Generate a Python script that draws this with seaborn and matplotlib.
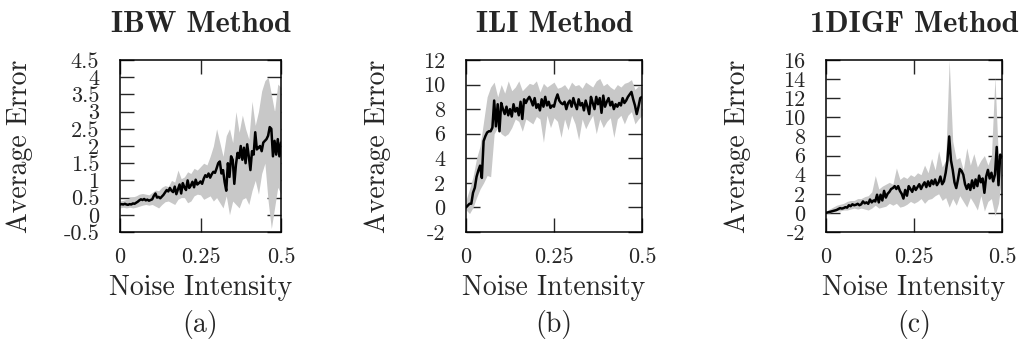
import numpy as np
import pandas as pd
import seaborn as sns
import matplotlib.pyplot as plt

# noise levels: mean curve sampled every 0.005, band every 0.01
noise_fine = np.round(np.arange(0, 0.5001, 0.005), 3)
noise_band = np.round(np.arange(0, 0.5001, 0.01), 2)

# IBW method
ibw_mean = [0.30, 0.31, 0.30, 0.32, 0.30, 0.29, 0.31, 0.30, 0.33, 0.32, 0.35,
            0.38, 0.42, 0.45, 0.43, 0.46, 0.42, 0.44, 0.41, 0.43, 0.45,
            0.55, 0.62, 0.50, 0.52, 0.48, 0.53, 0.58, 0.65, 0.72, 0.68,
            0.78, 0.70, 0.66, 0.82, 0.60, 0.74, 0.88, 0.62, 0.92, 0.80,
            0.72, 1.00, 0.78, 0.85, 0.96, 0.80, 1.02, 0.88, 0.92, 0.97,
            0.90, 1.05, 1.15, 1.10, 1.20, 1.08, 1.18, 1.25, 1.22, 1.35,
            1.50, 1.55, 1.20, 1.30, 0.95, 0.70, 1.50, 1.10, 1.70, 1.60,
            0.90, 1.45, 1.80, 1.65, 2.00, 1.60, 1.95, 1.50, 2.05, 1.70,
            1.30, 1.85, 1.75, 2.40, 1.90, 1.95, 2.00, 1.85, 2.10, 2.15,
            2.20, 2.30, 2.55, 2.50, 1.70, 2.15, 1.75, 2.20, 1.70, 2.10]
ibw_upper = [0.40, 0.42, 0.45, 0.50, 0.52, 0.55, 0.60, 0.62, 0.60, 0.58,
             0.65, 0.72, 0.70, 0.80, 0.85, 0.82, 1.00, 0.95, 1.30, 1.05,
             1.10, 1.25, 1.20, 1.35, 1.30, 1.40, 1.50, 1.45, 1.70, 2.00,
             2.50, 2.10, 1.70, 2.30, 2.50, 2.10, 3.00, 2.40, 2.90, 2.50,
             2.20, 3.30, 2.60, 3.00, 3.60, 3.90, 4.00, 3.50, 3.00, 3.80, 3.70]
ibw_lower = [0.20, 0.22, 0.20, 0.22, 0.20, 0.22, 0.25, 0.28, 0.30, 0.28,
             0.30, 0.25, 0.20, 0.30, 0.38, 0.40, 0.35, 0.30, 0.45, 0.50,
             0.50, 0.35, 0.40, 0.55, 0.60, 0.58, 0.45, 0.50, 0.55, 0.40,
             0.50, 0.35, 0.20, 0.55, 0.00, 0.40, 0.30, 0.20, 0.45, 0.50,
             0.30, 0.70, 1.00, 0.60, 1.20, 1.50, 0.40, -0.40, 0.20, 0.80, 0.60]

# ILI method
ili_mean = [0.0, 0.15, 0.3, 0.3, 1.2, 1.6, 2.5, 3.0, 3.4, 2.4, 5.4,
            5.8, 6.1, 6.2, 6.2, 6.5, 8.7, 6.6, 8.4, 6.2, 8.5,
            8.0, 7.6, 8.2, 7.5, 8.0, 7.4, 8.4, 7.8, 8.1, 7.5,
            8.6, 7.2, 8.8, 8.5, 8.8, 9.0, 8.7, 8.3, 8.9, 8.1,
            8.4, 7.9, 8.8, 8.2, 9.0, 8.3, 8.6, 8.1, 8.3, 8.2,
            8.8, 9.2, 8.7, 8.5, 8.4, 8.6, 8.0, 8.5, 8.7, 8.2,
            8.9, 8.4, 8.0, 8.8, 8.3, 8.5, 7.9, 8.7, 8.2, 7.6,
            9.0, 8.5, 8.0, 9.0, 8.4, 8.9, 7.7, 9.1, 8.2, 8.6,
            8.9, 8.3, 8.6, 8.0, 8.4, 8.2, 8.5, 8.3, 8.9, 8.5,
            8.7, 9.0, 9.2, 9.4, 8.8, 8.3, 7.6, 8.2, 8.9, 9.0]
ili_upper = [0.6, 1.5, 2.5, 4.0, 5.0, 7.0, 9.0, 9.8, 10.2, 9.0,
             10.0, 9.3, 10.3, 9.5, 9.8, 10.3, 9.5, 9.8, 10.1, 10.0,
             10.3, 9.4, 10.1, 9.8, 10.0, 10.2, 9.7, 9.8, 10.0, 9.6,
             10.2, 9.9, 10.0, 9.7, 10.2, 10.0, 9.8, 10.3, 10.5, 9.9,
             10.1, 9.8, 9.6, 10.0, 9.8, 10.1, 10.2, 10.4, 9.6, 9.9, 9.8]
ili_lower = [-0.2, -0.5, 0.0, 0.8, 1.5, 2.0, 2.6, 2.5, 6.0, 6.5,
             6.0, 5.8, 6.0, 6.5, 7.2, 7.0, 6.2, 7.2, 7.0, 6.8,
             7.4, 7.2, 5.3, 7.5, 6.5, 7.3, 7.0, 5.7, 7.2, 6.3,
             7.5, 6.8, 5.5, 7.2, 6.4, 7.0, 7.5, 6.0, 7.2, 6.5,
             7.0, 7.3, 5.7, 7.2, 7.5, 6.8, 7.5, 7.8, 6.8, 7.2, 7.5]

# 1DIGF method
digf_mean = [0.0, 0.05, 0.1, 0.15, 0.2, 0.25, 0.3, 0.4, 0.5, 0.45, 0.5,
             0.6, 0.55, 0.8, 0.7, 0.9, 0.8, 0.85, 0.95, 0.8, 0.9,
             1.2, 1.0, 1.1, 0.95, 1.4, 1.1, 1.3, 1.2, 1.9, 1.1,
             1.9, 1.3, 2.3, 1.6, 2.0, 2.2, 2.5, 2.6, 2.8, 2.5,
             2.8, 2.3, 2.0, 1.5, 2.4, 1.8, 2.8, 2.5, 2.2, 2.8,
             2.4, 2.7, 3.0, 2.5, 2.9, 3.2, 2.7, 3.3, 2.8, 3.4,
             3.0, 3.5, 2.9, 3.2, 3.8, 3.0, 3.3, 4.2, 5.5, 8.0,
             5.5, 4.5, 3.2, 2.6, 3.5, 4.6, 4.4, 4.0, 3.0, 2.5,
             3.0, 2.4, 3.4, 2.6, 3.5, 2.8, 3.9, 3.2, 3.6, 2.1,
             3.8, 4.5, 3.6, 4.2, 3.3, 4.0, 6.9, 2.9, 6.1, 5.8]
digf_upper = [0.2, 0.4, 0.6, 0.8, 0.9, 1.0, 1.2, 1.3, 1.3, 1.5,
              1.5, 1.7, 1.8, 2.2, 3.9, 2.5, 2.8, 3.0, 3.2, 3.0,
              4.7, 3.5, 3.8, 3.6, 4.0, 3.8, 4.2, 4.0, 5.0, 4.2,
              5.7, 4.5, 6.5, 4.8, 5.5, 16.0, 7.5, 5.6, 5.8, 4.5,
              6.8, 5.0, 6.2, 4.8, 5.5, 6.0, 5.0, 6.0, 14.2, 5.5, 6.2]
digf_lower = [-0.1, 0.0, 0.1, 0.2, 0.2, 0.3, 0.3, 0.4, 0.5, 0.4,
              0.5, 0.4, 0.3, 0.5, 0.8, 0.5, 0.6, 0.7, 1.0, 0.8,
              1.0, 0.6, 0.7, 0.9, 1.2, 1.0, 1.2, 1.5, 1.0, 1.4,
              1.5, 1.8, 2.0, 1.3, 1.6, 0.6, 1.5, 0.8, 1.8, 1.2,
              0.6, 1.6, 1.0, 0.3, 1.8, 0.2, 1.2, 1.5, -0.3, 1.0, 4.0]

titles = ['IBW Method', 'ILI Method', '1DIGF Method']
panel_tags = ['(a)', '(b)', '(c)']
x_ticks = [0, 0.25, 0.5]
x_tick_labels = ['0', '0.25', '0.5']
y_ranges = [(-0.5, 4.5, 0.5), (-2, 12, 2), (-2, 16, 2)]

sns.set_style('ticks')
plt.rcParams['font.family'] = ['cmr10', 'DejaVu Serif']
plt.rcParams['axes.unicode_minus'] = False
plt.rcParams['axes.formatter.use_mathtext'] = True

fig = plt.figure(figsize=(10.32, 3.56), dpi=100)
W, H = 1032, 356
boxes = [(120, 161), (466, 176), (826, 176)]
ylabel_x = [-0.54, -0.426, -0.426]
top, bottom = 60, 232

series = [(ibw_mean, ibw_lower, ibw_upper),
          (ili_mean, ili_lower, ili_upper),
          (digf_mean, digf_lower, digf_upper)]

for i, ((left, width), (mean, lo, hi)) in enumerate(zip(boxes, series)):
    ax = fig.add_axes([left / W, (H - bottom) / H, width / W, (bottom - top) / H])
    ax.fill_between(noise_band, lo, hi, color='#c8c8c8', linewidth=0)
    sns.lineplot(x=noise_fine, y=mean, ax=ax, color='black', linewidth=1.8)

    ymin, ymax, step = y_ranges[i]
    yt = np.round(np.arange(ymin, ymax + step / 2, step), 2)
    ax.set_xlim(0, 0.5)
    ax.set_ylim(ymin, ymax)
    ax.set_xticks(x_ticks)
    ax.set_xticklabels(x_tick_labels)
    ax.set_yticks(yt)
    ax.set_yticklabels(['%g' % v for v in yt])
    ax.tick_params(direction='in', length=10, width=1.0, top=True, right=True,
                   labelsize=16)
    ax.tick_params(axis='x', pad=11)
    ax.tick_params(axis='y', pad=15)
    for s in ax.spines.values():
        s.set_linewidth(1.1)
        s.set_color('black')

    ax.set_xlabel('Noise Intensity', fontsize=20)
    ax.set_ylabel('Average Error', fontsize=20)
    ax.xaxis.set_label_coords(0.5, -0.25)
    ax.xaxis.label.set_va('top')
    ax.yaxis.set_label_coords(ylabel_x[i], 0.5)
    ax.set_title(titles[i], fontsize=22, family=['cmb10', 'DejaVu Serif'],
                 fontweight='bold', pad=20)
    ax.text(0.5, -0.54, panel_tags[i], transform=ax.transAxes, fontsize=20,
            ha='center', va='center')

fig.savefig('out.png', dpi=100)
